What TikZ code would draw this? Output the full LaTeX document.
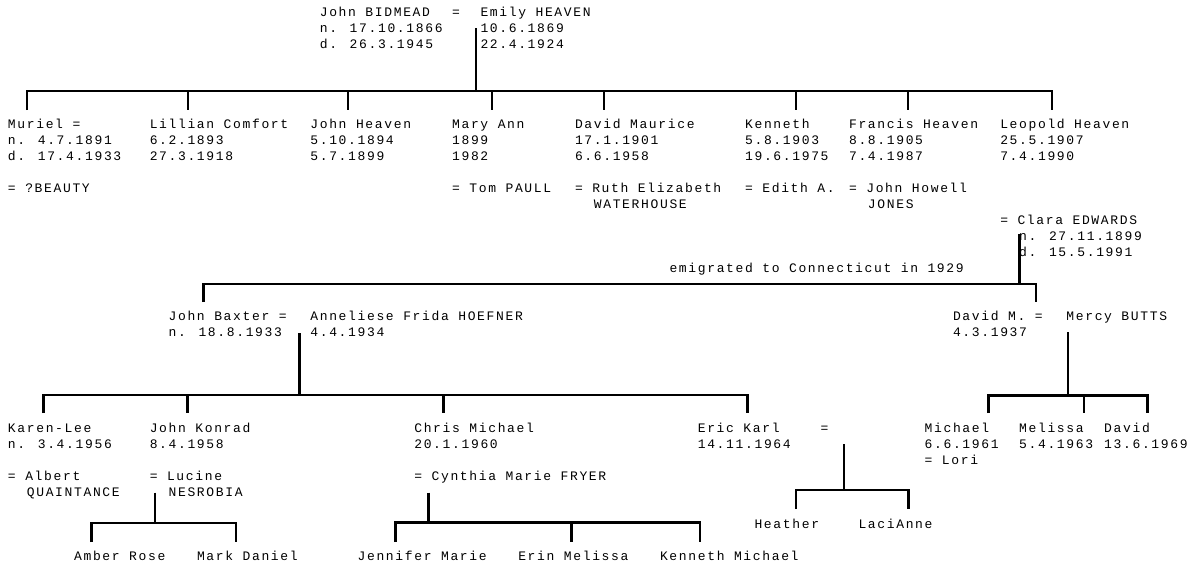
\documentclass[tikz,border=0pt]{standalone}
\usepackage{fontspec}
\newfontfamily\courf[LetterSpace=12.7]{Liberation Mono}
\tikzset{
  txt/.style={font=\courf\fontsize{13}{16}\selectfont, anchor=base west, inner sep=0pt, outer sep=0pt},
  ln/.style={line width=2.9pt, line cap=butt, line join=miter, black}
}
\newcommand\tx[4]{\node[txt] (#1) at ({8+9.45*(#2)},{128.7+16*(#3)}) {#4};}
\begin{document}
\begin{tikzpicture}[x=1pt,y=-1pt]
\useasboundingbox (0,0) rectangle (1193,566);
% --- generation 0
\tx{p0a}{33}{-7}{John BIDMEAD}
\tx{p0eq}{47}{-7}{=}
\tx{p0b}{50}{-7}{Emily HEAVEN}
\tx{p0a2}{33}{-6}{n. 17.10.1866}
\tx{p0b2}{50}{-6}{10.6.1869}
\tx{p0a3}{33}{-5}{d. 26.3.1945}
\tx{p0b3}{50}{-5}{22.4.1924}
% --- generation 1
\tx{m1}{0}{0}{Muriel =}
\tx{m2}{0}{1}{n. 4.7.1891}
\tx{m3}{0}{2}{d. 17.4.1933}
\tx{m4}{0}{4}{= ?BEAUTY}
\tx{l1}{15}{0}{Lillian Comfort}
\tx{l2}{15}{1}{6.2.1893}
\tx{l3}{15}{2}{27.3.1918}
\tx{jh1}{32}{0}{John Heaven}
\tx{jh2}{32}{1}{5.10.1894}
\tx{jh3}{32}{2}{5.7.1899}
\tx{ma1}{47}{0}{Mary Ann}
\tx{ma2}{47}{1}{1899}
\tx{ma3}{47}{2}{1982}
\tx{ma4}{47}{4}{= Tom PAULL}
\tx{dm1}{60}{0}{David Maurice}
\tx{dm2}{60}{1}{17.1.1901}
\tx{dm3}{60}{2}{6.6.1958}
\tx{dm4}{60}{4}{= Ruth Elizabeth}
\tx{dm5}{62}{5}{WATERHOUSE}
\tx{ke1}{78}{0}{Kenneth}
\tx{ke2}{78}{1}{5.8.1903}
\tx{ke3}{78}{2}{19.6.1975}
\tx{ke4}{78}{4}{= Edith A.}
\tx{fh1}{89}{0}{Francis Heaven}
\tx{fh2}{89}{1}{8.8.1905}
\tx{fh3}{89}{2}{7.4.1987}
\tx{fh4}{89}{4}{= John Howell}
\tx{fh5}{91}{5}{JONES}
\tx{lh1}{105}{0}{Leopold Heaven}
\tx{lh2}{105}{1}{25.5.1907}
\tx{lh3}{105}{2}{7.4.1990}
\tx{lh4}{105}{6}{= Clara EDWARDS}
\tx{lh5}{107}{7}{n. 27.11.1899}
\tx{lh6}{107}{8}{d. 15.5.1991}
\tx{emig}{70}{9}{emigrated to Connecticut in 1929}
% --- generation 2
\tx{jb1}{17}{12}{John Baxter =}
\tx{jb2}{17}{13}{n. 18.8.1933}
\tx{ah1}{32}{12}{Anneliese Frida HOEFNER}
\tx{ah2}{32}{13}{4.4.1934}
\tx{dv1}{100}{12}{David M. =}
\tx{dv2}{100}{13}{4.3.1937}
\tx{mb1}{112}{12}{Mercy BUTTS}
% --- generation 3
\tx{kl1}{0}{19}{Karen-Lee}
\tx{kl2}{0}{20}{n. 3.4.1956}
\tx{kl3}{0}{22}{= Albert}
\tx{kl4}{2}{23}{QUAINTANCE}
\tx{jk1}{15}{19}{John Konrad}
\tx{jk2}{15}{20}{8.4.1958}
\tx{jk3}{15}{22}{= Lucine}
\tx{jk4}{17}{23}{NESROBIA}
\tx{cm1}{43}{19}{Chris Michael}
\tx{cm2}{43}{20}{20.1.1960}
\tx{cm3}{43}{22}{= Cynthia Marie FRYER}
\tx{ek1}{73}{19}{Eric Karl}
\tx{ekeq}{86}{19}{=}
\tx{ek2}{73}{20}{14.11.1964}
\tx{mi1}{97}{19}{Michael}
\tx{mi2}{97}{20}{6.6.1961}
\tx{mi3}{97}{21}{= Lori}
\tx{me1}{107}{19}{Melissa}
\tx{me2}{107}{20}{5.4.1963}
\tx{da1}{116}{19}{David}
\tx{da2}{116}{20}{13.6.1969}
% --- generation 4
\tx{he}{79}{25}{Heather}
\tx{la}{90}{25}{LaciAnne}
\tx{ar}{7}{27}{Amber Rose}
\tx{md}{20}{27}{Mark Daniel}
\tx{jm}{37}{27}{Jennifer Marie}
\tx{em}{54}{27}{Erin Melissa}
\tx{km}{69}{27}{Kenneth Michael}
% --- connectors: coordinates
\coordinate (u0) at (476,28);   \coordinate (j0) at (476,91);
\foreach \n/\x in {1/27,2/188,3/348,4/492,5/604,6/796,7/908,8/1052}{
  \coordinate (t1\n) at (\x,91); \coordinate (b1\n) at (\x,110);}
\coordinate (u1) at (1019.5,234); \coordinate (j1) at (1019.5,284);
\coordinate (t2a) at (203.5,284); \coordinate (b2a) at (203.5,302);
\coordinate (t2b) at (1036,284);  \coordinate (b2b) at (1036,302);
\coordinate (u2) at (299.5,333); \coordinate (j2) at (299.5,395);
\foreach \n/\x in {1/43.3,2/187.7,3/443.3,4/747.3}{
  \coordinate (t3\n) at (\x,395); \coordinate (b3\n) at (\x,413);}
\coordinate (u3) at (1068,332); \coordinate (j3) at (1068,395.5);
\foreach \n/\x in {1/988.3,2/1084,3/1147.5}{
  \coordinate (t4\n) at (\x,395.5); \coordinate (b4\n) at (\x,413);}
\coordinate (u4) at (155,492.5); \coordinate (j4) at (155,523);
\coordinate (t5a) at (91.7,523); \coordinate (b5a) at (91.7,542);
\coordinate (t5b) at (236,523);  \coordinate (b5b) at (236,542);
\coordinate (u5) at (428.3,492.7); \coordinate (j5) at (428.3,522.7);
\foreach \n/\x in {1/395.7,2/571.7,3/700}{
  \coordinate (t6\n) at (\x,522.7); \coordinate (b6\n) at (\x,542);}
\coordinate (u6) at (844,444); \coordinate (j6) at (844,490);
\coordinate (t7a) at (796,490); \coordinate (b7a) at (796,509);
\coordinate (t7b) at (908.3,490); \coordinate (b7b) at (908.3,509);
% --- connectors
\draw[ln] (u0) -- (j0);
\draw[ln] (b11) -- (t11) -- (t18) -- (b18);
\foreach \n in {2,...,7}{\draw[ln] (t1\n) -- (b1\n);}
\draw[ln] (u1) -- (j1);
\draw[ln] (b2a) -- (t2a) -- (t2b) -- (b2b);
\draw[ln] (u2) -- (j2);
\draw[ln] (b31) -- (t31) -- (t34) -- (b34);
\foreach \n in {2,3}{\draw[ln] (t3\n) -- (b3\n);}
\draw[ln] (u3) -- (j3);
\draw[ln] (b41) -- (t41) -- (t43) -- (b43);
\draw[ln] (t42) -- (b42);
\draw[ln] (u4) -- (j4);
\draw[ln] (b5a) -- (t5a) -- (t5b) -- (b5b);
\draw[ln] (u5) -- (j5);
\draw[ln] (b61) -- (t61) -- (t63) -- (b63);
\draw[ln] (t62) -- (b62);
\draw[ln] (u6) -- (j6);
\draw[ln] (b7a) -- (t7a) -- (t7b) -- (b7b);
\end{tikzpicture}
\end{document}
